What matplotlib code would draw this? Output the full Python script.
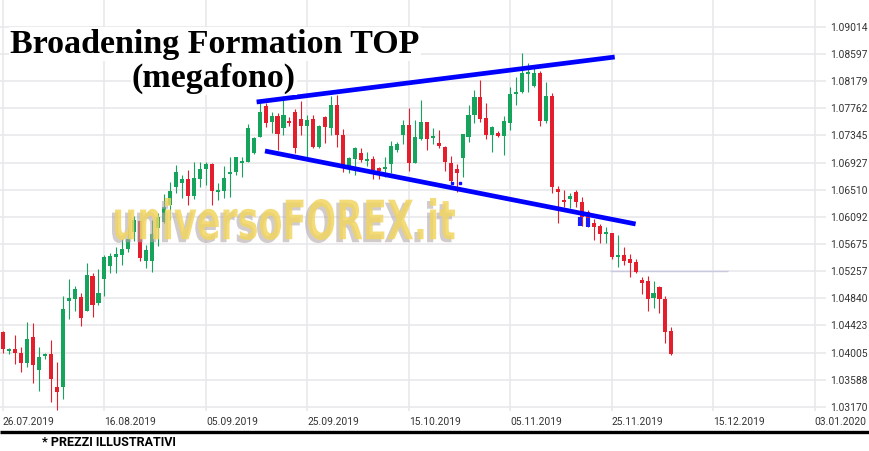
import numpy as np
import matplotlib
matplotlib.use("Agg")
from matplotlib import pyplot as plt
from matplotlib.textpath import TextPath
from matplotlib.patches import PathPatch
from matplotlib.font_manager import FontProperties
from matplotlib.transforms import Affine2D

# daily EUR/USD candles, 26.07.2019 -> early Dec 2019
opens = [1.04321, 1.04029, 1.04060, 1.03998, 1.03844, 1.04244, 1.03737, 1.03952, 1.03983, 1.03475,
         1.03475, 1.04798, 1.04829, 1.04860, 1.04644, 1.05183, 1.04767, 1.05137, 1.05337, 1.05475,
         1.05506, 1.05598, 1.05860, 1.06029, 1.05414, 1.05414, 1.05921, 1.06014, 1.06275, 1.06552,
         1.06614, 1.06675, 1.06414, 1.06675, 1.06829, 1.06906, 1.06475, 1.06491, 1.06752, 1.06783,
         1.06921, 1.06937, 1.07075, 1.07321, 1.07798, 1.07552, 1.07644, 1.07460, 1.07567, 1.07706,
         1.07598, 1.07491, 1.07598, 1.07167, 1.07629, 1.07460, 1.07814, 1.07352, 1.06875, 1.06983,
         1.07075, 1.06952, 1.06983, 1.06844, 1.06829, 1.06906, 1.07121, 1.07352, 1.07506, 1.06921,
         1.07291, 1.07552, 1.07306, 1.07229, 1.07167, 1.06921, 1.06829, 1.06998, 1.07321, 1.07660,
         1.07937, 1.07614, 1.07352, 1.07383, 1.07337, 1.07537, 1.07983, 1.08014, 1.08291, 1.08106,
         1.08306, 1.07567, 1.07952, 1.06521, 1.06352, 1.06367, 1.06475, 1.06321, 1.06167, 1.05998,
         1.05952, 1.05829, 1.05844, 1.05475, 1.05506, 1.05444, 1.05398, 1.05121, 1.05106, 1.04844,
         1.05014, 1.04829, 1.04337]
highs = [1.04337, 1.04075, 1.04275, 1.04090, 1.04475, 1.04460, 1.04090, 1.03998, 1.04198, 1.03860,
         1.04875, 1.05137, 1.05029, 1.04921, 1.05383, 1.05229, 1.05290, 1.05506, 1.05537, 1.05629,
         1.05752, 1.05937, 1.06106, 1.06044, 1.05660, 1.06044, 1.06152, 1.06444, 1.06629, 1.06891,
         1.06737, 1.06814, 1.06937, 1.06937, 1.06937, 1.06921, 1.06614, 1.06875, 1.07014, 1.07014,
         1.07014, 1.07521, 1.07321, 1.07844, 1.07844, 1.07706, 1.07691, 1.07952, 1.07629, 1.07752,
         1.07875, 1.07660, 1.07660, 1.07506, 1.07644, 1.07952, 1.07967, 1.07444, 1.07014, 1.07167,
         1.07152, 1.07091, 1.07029, 1.06860, 1.07014, 1.07260, 1.07244, 1.07583, 1.07767, 1.07583,
         1.07891, 1.07552, 1.07460, 1.07429, 1.07183, 1.07029, 1.06906, 1.07367, 1.07814, 1.08044,
         1.08198, 1.07844, 1.07491, 1.07414, 1.07644, 1.08091, 1.08244, 1.08614, 1.08460, 1.08429,
         1.08337, 1.08167, 1.07998, 1.06567, 1.06506, 1.06460, 1.06506, 1.06398, 1.06198, 1.06060,
         1.05983, 1.05937, 1.05844, 1.05814, 1.05629, 1.05521, 1.05444, 1.05167, 1.05183, 1.05106,
         1.05029, 1.04875, 1.04398]
lows = [1.03998, 1.03983, 1.03829, 1.03706, 1.03783, 1.03537, 1.03414, 1.03906, 1.03244, 1.03121,
        1.03290, 1.04521, 1.04644, 1.04414, 1.04644, 1.04552, 1.04737, 1.04875, 1.05229, 1.05229,
        1.05352, 1.05552, 1.05721, 1.05414, 1.05306, 1.05244, 1.05644, 1.05998, 1.06044, 1.06460,
        1.06383, 1.06275, 1.06367, 1.06552, 1.06583, 1.06275, 1.06352, 1.06383, 1.06398, 1.06737,
        1.06706, 1.06937, 1.07060, 1.07321, 1.07475, 1.07383, 1.07121, 1.07352, 1.07491, 1.07075,
        1.07352, 1.07014, 1.07152, 1.07152, 1.07229, 1.07352, 1.07167, 1.06783, 1.06767, 1.06737,
        1.06937, 1.06875, 1.06675, 1.06675, 1.06706, 1.06767, 1.07091, 1.07214, 1.06798, 1.06921,
        1.07275, 1.07121, 1.07214, 1.07152, 1.06798, 1.06614, 1.06475, 1.06706, 1.07244, 1.07537,
        1.07552, 1.07291, 1.07091, 1.07321, 1.07044, 1.07429, 1.07814, 1.07998, 1.08014, 1.08091,
        1.07491, 1.07537, 1.06460, 1.05998, 1.06244, 1.06229, 1.06244, 1.05952, 1.05937, 1.05737,
        1.05690, 1.05690, 1.05444, 1.05321, 1.05352, 1.05167, 1.05229, 1.04906, 1.04644, 1.04690,
        1.04614, 1.04152, 1.03967]
closes = [1.04060, 1.04060, 1.03998, 1.03844, 1.04214, 1.03814, 1.03937, 1.03983, 1.03598, 1.03398,
          1.04675, 1.04844, 1.04983, 1.04537, 1.05198, 1.04737, 1.04921, 1.05475, 1.05490, 1.05521,
          1.05598, 1.05752, 1.06044, 1.05460, 1.05583, 1.05829, 1.06091, 1.06244, 1.06491, 1.06783,
          1.06675, 1.06414, 1.06691, 1.06829, 1.06906, 1.06491, 1.06506, 1.06691, 1.06783, 1.07014,
          1.06937, 1.07460, 1.07306, 1.07706, 1.07537, 1.07644, 1.07367, 1.07660, 1.07537, 1.07152,
          1.07491, 1.07583, 1.07167, 1.07491, 1.07475, 1.07814, 1.07352, 1.06891, 1.06998, 1.07152,
          1.06967, 1.06983, 1.06814, 1.06798, 1.06860, 1.07183, 1.07214, 1.07506, 1.06921, 1.07321,
          1.07552, 1.07291, 1.07337, 1.07183, 1.06937, 1.06644, 1.06767, 1.07367, 1.07660, 1.07937,
          1.07598, 1.07352, 1.07475, 1.07337, 1.07567, 1.07983, 1.08014, 1.08306, 1.08321, 1.08306,
          1.07567, 1.07952, 1.06552, 1.06475, 1.06321, 1.06414, 1.06321, 1.06091, 1.06075, 1.05937,
          1.05829, 1.05844, 1.05475, 1.05490, 1.05414, 1.05383, 1.05244, 1.05075, 1.04829, 1.04921,
          1.04829, 1.04321, 1.03983]

date_labels = ["26.07.2019", "16.08.2019", "05.09.2019", "25.09.2019", "15.10.2019",
               "05.11.2019", "25.11.2019", "15.12.2019", "03.01.2020"]
price_labels = ["1.09014", "1.08597", "1.08179", "1.07762", "1.07345", "1.06927", "1.06510",
                "1.06092", "1.05675", "1.05257", "1.04840", "1.04423", "1.04005", "1.03588", "1.03170"]

# hand drawn "megafono" lines (candle index, price)
upper_line = ([42.5, 102.5], [1.07860, 1.08552])
lower_line = ([43.9, 106.0], [1.07106, 1.05983])

GREEN = "#16a35c"
RED = "#e31e2d"
TXT = "#333333"
tick_font = ["Roboto", "DejaVu Sans"]

fig = plt.figure(figsize=(8.70, 4.51), dpi=100)
ax = fig.add_axes([0, 1 - 411 / 451, 826 / 870, 411 / 451])

x = np.arange(len(opens))
o = np.array(opens)
c = np.array(closes)
up = c >= o
cols = np.where(up, GREEN, RED)

ax.vlines(x, lows, highs, colors=cols, linewidth=0.8, zorder=3)
body_bottom = np.minimum(o, c)
body_h = np.maximum(np.abs(c - o), 0.00025)
ax.bar(x, body_h, bottom=body_bottom, width=0.68, color=cols, linewidth=0, zorder=4)

# blue leftovers from the drawing tool on two candles
ax.vlines([96.6, 98.0], [1.05952, 1.05937], [1.06091, 1.06075], colors="#1a1aff", linewidth=3.0, zorder=5)
ax.plot([75.2, 76.5], [1.06614, 1.06614], "s", color="#1010ff", markersize=2.0, zorder=5)

ax.plot(*upper_line, color="#0000ff", linewidth=3.4, solid_capstyle="butt", zorder=6)
ax.plot(*lower_line, color="#0000ff", linewidth=3.4, solid_capstyle="butt", zorder=6)
ax.hlines(float(price_labels[9]), 101.7, 121.4, colors="#c9c9e0", linewidth=1.0, zorder=2)

ax.set_xlim(-0.5, 137.9)
ax.set_ylim(1.03106, 1.09429)
ax.set_xticks(np.arange(len(date_labels)) * 17)
ax.set_xticklabels(date_labels, ha="left", family=tick_font, fontsize=7.4, color=TXT)
ax.set_yticks([float(v) for v in price_labels])
ax.set_yticklabels(price_labels, family=tick_font, fontsize=7.4, color=TXT)
ax.yaxis.tick_right()
ax.tick_params(axis="both", length=0)
ax.tick_params(axis="x", pad=4)
ax.tick_params(axis="y", pad=3)
ax.grid(True, color="#e7e7ea", linewidth=1.1, zorder=0)
ax.set_axisbelow(True)
for s in ax.spines.values():
    s.set_visible(False)

# overlay in pixel coordinates for watermark, title, footer
ov = fig.add_axes([0, 0, 1, 1])
ov.set_xlim(0, 870)
ov.set_ylim(0, 451)
ov.axis("off")

wm = TextPath((0, 0), "universoFOREX.it", size=50,
              prop=FontProperties(family="DejaVu Sans", weight="bold"))
ext = wm.get_extents()
sx = 340 / ext.width
sy = 42 / ext.height
shadow = Affine2D().translate(-ext.x0, -ext.y0).scale(sx, sy).translate(112, 208)
front = Affine2D().translate(-ext.x0, -ext.y0).scale(sx, sy).translate(115, 211)
ov.add_patch(PathPatch(shadow.transform_path(wm), facecolor="#b3a9aa", edgecolor="none", alpha=0.6))
ov.add_patch(PathPatch(front.transform_path(wm), facecolor="#f2d561", edgecolor="none", alpha=0.85))

ov.text(10, 451 - 44, "Broadening Formation TOP", family="Liberation Serif", weight="bold",
        fontsize=24.5, color="black", va="center", ha="left",
        bbox=dict(facecolor="white", edgecolor="none", pad=1))
ov.text(214, 451 - 78, "(megafono)", family="Liberation Serif", weight="bold",
        fontsize=24.5, color="black", va="center", ha="center",
        bbox=dict(facecolor="white", edgecolor="none", pad=1))

ov.plot([0, 870], [19, 19], color="black", linewidth=2.4, solid_capstyle="butt")
ov.text(42, 9, "* PREZZI ILLUSTRATIVI", family=tick_font, weight="bold", fontsize=9,
        color="black", va="center", ha="left")

fig.savefig("out.png", dpi=100, facecolor="white")
